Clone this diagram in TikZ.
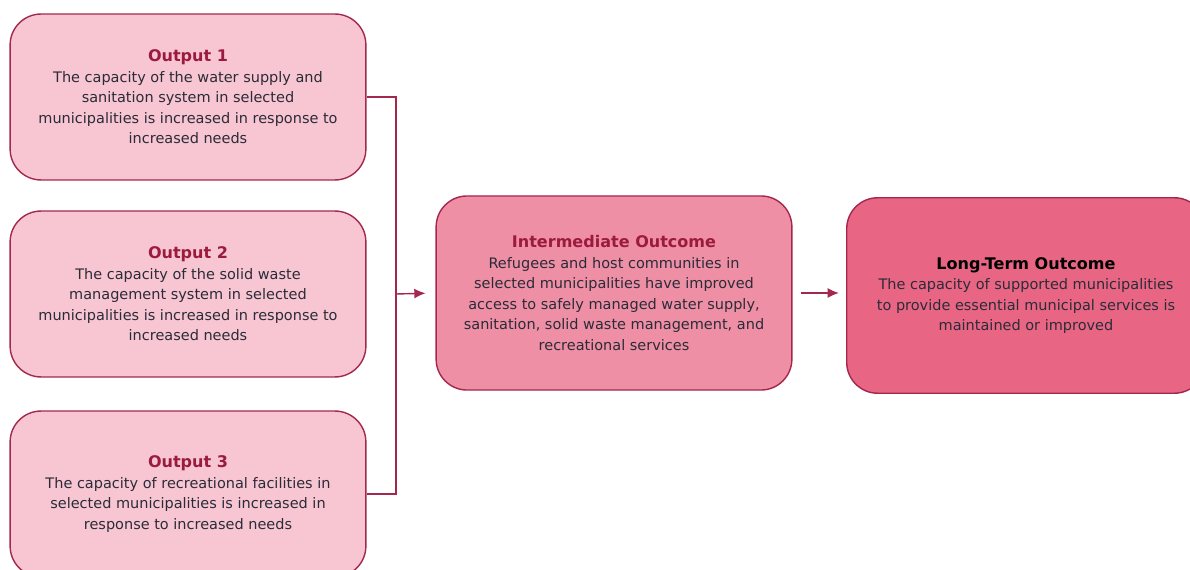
\documentclass[tikz,border=0pt]{standalone}
\usepackage{fontspec}
\setmainfont{DejaVu Sans}
\usetikzlibrary{arrows.meta,positioning}
\definecolor{boxline}{HTML}{A3284D}
\definecolor{outfill}{HTML}{F7C6D2}
\definecolor{midfill}{HTML}{EE8FA5}
\definecolor{endfill}{HTML}{E86684}
\definecolor{titlered}{HTML}{9B1B3F}
\definecolor{bodytext}{HTML}{2B2B38}
\tikzset{
  >={Latex[length=8pt,width=7pt]},
  box/.style={draw=boxline,line width=1pt,rounded corners=22pt,align=center,
    text=bodytext,font=\fontsize{10.3}{14.6}\selectfont,inner sep=0pt},
  outbox/.style={box,fill=outfill,minimum width=253pt,minimum height=118pt},
  midbox/.style={box,fill=midfill,minimum width=253pt,minimum height=138pt},
  endbox/.style={box,fill=endfill,minimum width=255pt,minimum height=139pt},
  link/.style={draw=boxline,line width=1pt},
}
\newcommand{\boxtitle}[2][titlered]{{\color{#1}\fontsize{11.4}{14.6}\selectfont\bfseries #2}}
\begin{document}
\begin{tikzpicture}[x=0.025cm,y=-0.025cm]
  \useasboundingbox (0,0) rectangle (1190,570);
  \node[outbox] (out1) at (188,97) {\boxtitle{Output 1}\\
    The capacity of the water supply and\\ sanitation system in selected\\
    municipalities is increased in response to\\ increased needs};
  \node[outbox] (out2) at (188,294) {\boxtitle{Output 2}\\
    The capacity of the solid waste\\ management system in selected\\
    municipalities is increased in response to\\ increased needs};
  \node[outbox] (out3) at (188,494) {\boxtitle{Output 3}\\
    The capacity of recreational facilities in\\ selected municipalities is increased in\\
    response to increased needs};
  \node[midbox] (inter) at (614,293) {\boxtitle{Intermediate Outcome}\\
    Refugees and host communities in\\ selected municipalities have improved\\
    access to safely managed water supply,\\ sanitation, solid waste management, and\\
    recreational services};
  \node[endbox] (longterm) at (1026,295.5) {\boxtitle[black]{Long-Term Outcome}\\
    The capacity of supported municipalities\\ to provide essential municipal services is\\
    maintained or improved};
  \coordinate (bus) at (396,294);
  \draw[link] (out1.east) -| (bus) |- (out3.east);
  \draw[link,->,shorten >=7pt] (bus) -- (inter.west);
  \draw[link,->,shorten <=6pt,shorten >=5pt] (inter.east) -- (inter.east -| longterm.west);
\end{tikzpicture}
\end{document}
